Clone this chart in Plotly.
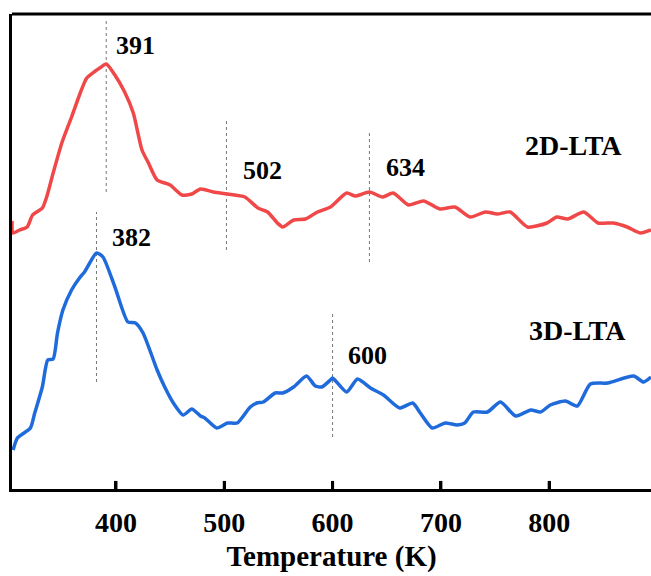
import plotly.graph_objects as go

# 2D-LTA curve (upper, red)
t_2d = [304, 305, 311, 318, 323, 332, 336, 342, 350, 359, 367, 373, 381, 385, 391,
        399, 408, 416, 424, 430, 438, 450, 461, 470, 478, 490, 503, 519, 531, 540,
        549, 554, 564, 575, 586, 598, 613, 621, 634, 646, 656, 670, 684, 699, 713,
        727, 741, 752, 764, 780, 798, 807, 817, 832, 845, 859, 872, 884, 894]
i_2d = [268, 256, 259, 262, 274, 281, 292, 316, 346, 372, 396, 411, 418, 421, 425,
        414, 397, 376, 339, 326, 309, 304, 294, 295, 300, 297, 295, 292, 281, 277,
        266, 262, 269, 270, 277, 282, 296, 293, 297, 292, 296, 284, 288, 280, 282,
        272, 277, 275, 277, 262, 266, 272, 270, 277, 266, 266, 262, 256, 259]

# 3D-LTA curve (lower, blue)
t_3d = [305, 309, 321, 325, 332, 337, 342, 346, 351, 359, 367, 371, 382, 388, 399,
        411, 418, 425, 438, 445, 453, 462, 470, 478, 482, 493, 503, 512, 524, 530,
        536, 547, 554, 564, 576, 584, 590, 598, 600, 613, 623, 635, 647, 662, 674,
        681, 692, 704, 715, 722, 730, 743, 755, 769, 783, 792, 801, 815, 826, 838,
        854, 878, 887, 894]
i_3d = [39, 51, 61, 76, 102, 129, 130, 156, 179, 199, 212, 217, 236, 232, 202,
        167, 166, 156, 119, 102, 86, 74, 80, 73, 71, 61, 66, 66, 82, 86,
        87, 96, 96, 102, 113, 103, 102, 109, 111, 97, 110, 101, 94, 81, 86,
        76, 61, 66, 64, 66, 77, 77, 87, 73, 79, 77, 84, 88, 83, 105,
        106, 113, 107, 112]

# peak markers: position, bottom and top of the guide line
peak_t = [391, 502, 634, 382, 600]
peak_lo = [297, 239, 227, 107, 52]
peak_hi = [469, 371, 359, 277, 176]
peak_label = ['391', '502', '634', '382', '600']
label_t = [418, 535, 667, 414, 632]
label_i = [444, 319, 322, 252, 134]

series_names = ['2D-LTA', '3D-LTA']
series_t = [822, 826]
series_i = [344, 159]

tick_t = [400, 500, 600, 700, 800]

FONT = 'Liberation Serif'

fig = go.Figure()

for t, lo, hi in zip(peak_t, peak_lo, peak_hi):
    fig.add_trace(go.Scatter(x=[t, t], y=[lo, hi], mode='lines',
                             line=dict(color='#777777', width=1, dash='dot'),
                             showlegend=False, hoverinfo='skip'))

fig.add_trace(go.Scatter(x=t_2d, y=i_2d, mode='lines', name='2D-LTA',
                         line=dict(color='#F04848', width=3.5, shape='spline', smoothing=0.6)))
fig.add_trace(go.Scatter(x=t_3d, y=i_3d, mode='lines', name='3D-LTA',
                         line=dict(color='#1F6BDB', width=3.5, shape='spline', smoothing=0.6)))

for txt, t, i in zip(peak_label, label_t, label_i):
    fig.add_annotation(x=t, y=i, text=txt, showarrow=False,
                       font=dict(family=FONT, size=26, color='black', weight='bold'))

for txt, t, i in zip(series_names, series_t, series_i):
    fig.add_annotation(x=t, y=i, text=txt, showarrow=False,
                       font=dict(family=FONT, size=28, color='black', weight='bold'))

# top frame line (the right side stays open, as in the original)
fig.add_shape(type='line', xref='paper', yref='paper', x0=0, x1=1, y0=1, y1=1,
              line=dict(color='black', width=3))

# inward tick marks on the bottom axis (the axis' own inside ticks did not render)
for t in tick_t:
    fig.add_shape(type='line', xref='x', yref='paper', x0=t, x1=t, y0=0, y1=0.017,
                  line=dict(color='black', width=3))

fig.update_layout(
    width=651, height=576, showlegend=False,
    plot_bgcolor='white', paper_bgcolor='white',
    margin=dict(l=12, r=0, t=14, b=87),
    xaxis=dict(range=[304, 894], tickmode='array', tickvals=tick_t,
               ticks='inside', ticklen=8, tickwidth=3, tickcolor='black',
               ticklabelstandoff=6,
               showline=True, linewidth=3, linecolor='black', mirror=False,
               showgrid=False, zeroline=False,
               tickfont=dict(family=FONT, size=28, color='black', weight='bold'),
               title=dict(text='Temperature (K)', standoff=10,
                          font=dict(family=FONT, size=29, color='black', weight='bold'))),
    yaxis=dict(range=[0, 475], showticklabels=False, ticks='',
               showline=True, linewidth=3, linecolor='black', mirror=False,
               showgrid=False, zeroline=False),
)

# drop the page's default body margin so the figure sits at the window origin
fig.write_html("out.html", config={'displayModeBar': False},
               post_script="document.body.style.margin='0';")
